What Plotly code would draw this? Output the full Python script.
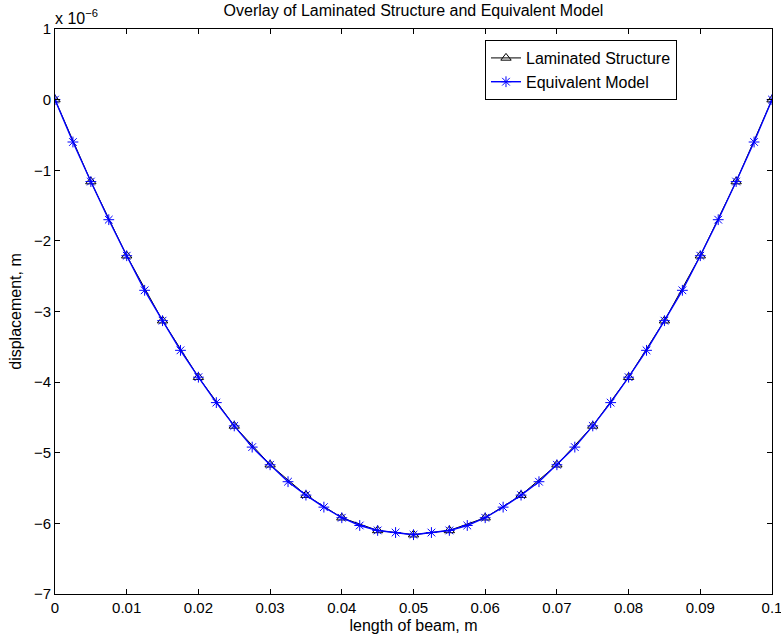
import plotly.graph_objects as go

# Laminated structure: x every 0.005 m, displacement in units of 1e-6 m
x_lam = [0.0, 0.005, 0.01, 0.015, 0.02, 0.025, 0.03, 0.035, 0.04, 0.045, 0.05,
         0.055, 0.06, 0.065, 0.07, 0.075, 0.08, 0.085, 0.09, 0.095, 0.1]
y_lam = [0.0, -1.16, -2.21, -3.13, -3.93, -4.62, -5.17, -5.60, -5.92, -6.10, -6.16,
         -6.10, -5.92, -5.60, -5.17, -4.62, -3.93, -3.13, -2.21, -1.16, 0.0]

# Equivalent model: x every 0.0025 m
x_eq = [0.0, 0.0025, 0.005, 0.0075, 0.01, 0.0125, 0.015, 0.0175, 0.02, 0.0225,
        0.025, 0.0275, 0.03, 0.0325, 0.035, 0.0375, 0.04, 0.0425, 0.045, 0.0475,
        0.05, 0.0525, 0.055, 0.0575, 0.06, 0.0625, 0.065, 0.0675, 0.07, 0.0725,
        0.075, 0.0775, 0.08, 0.0825, 0.085, 0.0875, 0.09, 0.0925, 0.095, 0.0975, 0.1]
y_eq = [0.0, -0.60, -1.16, -1.70, -2.21, -2.70, -3.13, -3.55, -3.93, -4.29,
        -4.62, -4.92, -5.17, -5.41, -5.60, -5.77, -5.92, -6.03, -6.10, -6.13,
        -6.16, -6.13, -6.10, -6.03, -5.92, -5.77, -5.60, -5.41, -5.17, -4.92,
        -4.62, -4.29, -3.93, -3.55, -3.13, -2.70, -2.21, -1.70, -1.16, -0.60, 0.0]

x_ticks = [0, 0.01, 0.02, 0.03, 0.04, 0.05, 0.06, 0.07, 0.08, 0.09, 0.1]
x_tick_text = ["0", "0.01", "0.02", "0.03", "0.04", "0.05", "0.06", "0.07", "0.08", "0.09", "0.1"]
y_ticks = [1, 0, -1, -2, -3, -4, -5, -6, -7]
y_tick_text = ["1", "0", "\u22121", "\u22122", "\u22123", "\u22124", "\u22125", "\u22126", "\u22127"]

FONT = "Liberation Sans, Arial, Helvetica, sans-serif"
FS_TICK = 15
FS_TEXT = 16

fig = go.Figure()
fig.add_trace(go.Scatter(
    x=x_lam, y=y_lam, mode="lines+markers", name="Laminated Structure",
    line=dict(color="black", width=1),
    marker=dict(symbol="triangle-up-open", size=9, color="black", line=dict(width=1, color="black")),
))
fig.add_trace(go.Scatter(
    x=x_eq, y=y_eq, mode="lines+markers", name="Equivalent Model",
    line=dict(color="#0000ff", width=1.4),
    marker=dict(symbol="asterisk-open", size=9, color="#0000ff", line=dict(width=1, color="#0000ff")),
))

axis_common = dict(
    showline=True, linecolor="black", linewidth=1, mirror="ticks",
    ticks="inside", ticklen=5, tickcolor="black", tickwidth=1,
    showgrid=False, zeroline=False, ticklabeloverflow="allow", automargin=False,
    tickfont=dict(family=FONT, size=FS_TICK, color="black"),
)

fig.update_layout(
    width=781, height=640,
    margin=dict(l=55, r=9, t=29, b=46),
    paper_bgcolor="white", plot_bgcolor="white",
    font=dict(family=FONT, size=FS_TEXT, color="black"),
    title=dict(text="Overlay of Laminated Structure and Equivalent Model",
               xref="paper", x=0.5, xanchor="center", y=0.983, yanchor="middle",
               font=dict(family=FONT, size=FS_TEXT, color="black")),
    xaxis=dict(range=[0, 0.1], tickvals=x_ticks, ticktext=x_tick_text,
               title=dict(text="length of beam, m", standoff=4,
                          font=dict(family=FONT, size=FS_TEXT, color="black")),
               **axis_common),
    yaxis=dict(range=[-7, 1], tickvals=y_ticks, ticktext=y_tick_text,
               title=dict(text="displacement, m", standoff=8,
                          font=dict(family=FONT, size=FS_TEXT, color="black")),
               **axis_common),
    legend=dict(x=0.8675, xanchor="right", y=0.9805, yanchor="top",
                bgcolor="white", bordercolor="black", borderwidth=1,
                font=dict(family=FONT, size=FS_TEXT, color="black"),
                itemsizing="trace", itemwidth=30, tracegroupgap=0),
    showlegend=True,
)

fig.add_annotation(
    xref="paper", yref="paper", x=0.0, y=1.0, xanchor="left", yanchor="bottom",
    text="x 10<sup>\u22126</sup>", showarrow=False, yshift=0, xshift=-2,
    font=dict(family=FONT, size=FS_TEXT, color="black"),
)

fig.write_html("out.html", config={"displayModeBar": False},
               post_script="document.body.style.margin='0px';")
